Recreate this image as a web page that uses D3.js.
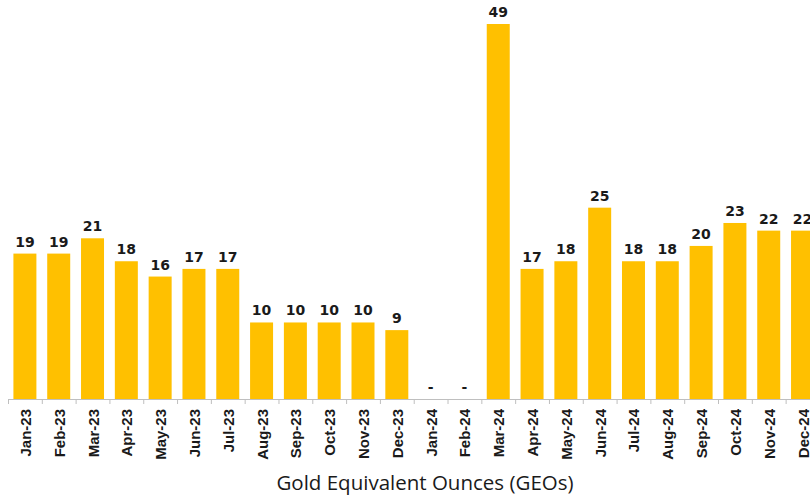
<!DOCTYPE html>
<html>
<head>
<meta charset="UTF-8">
<script src="https://d3js.org/d3.v7.min.js"></script>
<style>
    body { margin: 0; background: #fff; overflow: hidden; }
    svg { display: block; }
</style>
</head>
<body>
<svg id="chart" width="810" height="497"></svg>
<script>
    // 数据
    const months = ["Jan-23", "Feb-23", "Mar-23", "Apr-23", "May-23", "Jun-23", "Jul-23", "Aug-23",
        "Sep-23", "Oct-23", "Nov-23", "Dec-23", "Jan-24", "Feb-24", "Mar-24", "Apr-24",
        "May-24", "Jun-24", "Jul-24", "Aug-24", "Sep-24", "Oct-24", "Nov-24", "Dec-24"];
    const geos = [19, 19, 21, 18, 16, 17, 17, 10, 10, 10, 10, 9, 0, 0, 49, 17, 18, 25, 18, 18, 20, 23, 22, 22];
    const axisTitle = "Gold Equivalent Ounces (GEOs)";

    const svg = d3.select("#chart");
    const baseY = 399;

    const x = d3.scaleBand()
        .domain(months)
        .range([8, 8 + 24 * 33.81])
        .paddingInner(0.32)
        .paddingOuter(0.16);

    const y = d3.scaleLinear()
        .domain([0, 49])
        .range([baseY, 24]);

    // 柱子
    svg.append("g")
        .selectAll("rect")
        .data(months)
        .join("rect")
        .attr("x", d => x(d))
        .attr("y", (d, i) => y(geos[i]))
        .attr("width", x.bandwidth())
        .attr("height", (d, i) => baseY - y(geos[i]))
        .attr("fill", "#FFC000");

    // 数据标签
    svg.append("g")
        .selectAll("text")
        .data(months)
        .join("text")
        .attr("x", d => x(d) + x.bandwidth() / 2)
        .attr("y", (d, i) => y(geos[i]) - 7)
        .attr("text-anchor", "middle")
        .style("font-family", "DejaVu Sans")
        .style("font-weight", "bold")
        .style("font-size", "14px")
        .style("fill", "#1a1a1a")
        .text((d, i) => geos[i] === 0 ? "-" : geos[i]);

    // x 轴
    const step = x.step();
    const ax = svg.append("g");
    ax.append("line")
        .attr("x1", 8).attr("x2", 810)
        .attr("y1", baseY + 0.5).attr("y2", baseY + 0.5)
        .attr("stroke", "#bfbfbf");
    ax.selectAll(".tk")
        .data(d3.range(months.length + 1))
        .join("line")
        .attr("x1", i => 8 + i * step + 0.5)
        .attr("x2", i => 8 + i * step + 0.5)
        .attr("y1", baseY)
        .attr("y2", baseY + 5)
        .attr("stroke", "#bfbfbf");

    ax.selectAll(".lbl")
        .data(months)
        .join("text")
        .attr("transform", d => `translate(${x(d) + x.bandwidth() / 2 + 6},${baseY + 10}) rotate(-90)`)
        .attr("text-anchor", "end")
        .style("font-family", "Liberation Sans")
        .style("font-weight", "bold")
        .style("font-size", "15px")
        .style("fill", "#1a1a1a")
        .text(d => d);

    // 轴标题
    svg.append("text")
        .attr("x", 425)
        .attr("y", 490)
        .attr("text-anchor", "middle")
        .style("font-family", "Open Sans")
        .style("font-size", "20.5px")
        .style("fill", "#1a1a1a")
        .text(axisTitle);
</script>
</body>
</html>
